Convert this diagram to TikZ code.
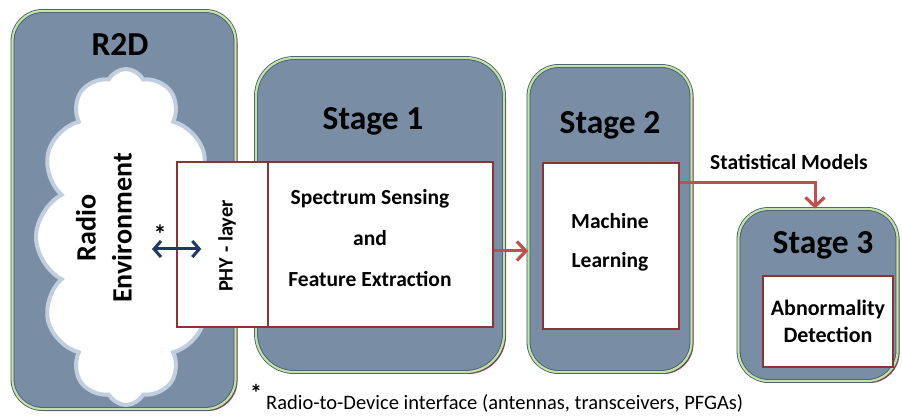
\documentclass[tikz,border=0pt]{standalone}
\usepackage{fontspec}
\setmainfont{Carlito}
\usetikzlibrary{shapes.symbols,shadows,arrows.meta}
\definecolor{slate}{RGB}{121,141,164}
\definecolor{slateedge}{RGB}{62,88,108}
\definecolor{rimgreen}{RGB}{196,226,166}
\definecolor{rimred}{RGB}{172,68,68}
\definecolor{boxedge}{RGB}{138,52,52}
\definecolor{flowred}{RGB}{192,80,77}
\definecolor{navy}{RGB}{31,56,100}
\definecolor{cloudedge}{RGB}{192,206,224}
\tikzset{
  stagebox/.style={rounded corners=30pt, fill=slate, draw=slateedge, line width=0.8pt,
    double=rimgreen, double distance=2.2pt, inner sep=0pt,
    general shadow={shadow xshift=2pt, shadow yshift=-2pt, fill=rimred}},
  stagetitle/.style={font=\bfseries\fontsize{33.5}{38}\selectfont},
  whitebox/.style={draw=boxedge, fill=white, line width=1.4pt, inner sep=0pt},
  boxtext/.style={font=\bfseries\fontsize{21.5}{41}\selectfont, align=center},
  flow/.style={draw=flowred, line width=3pt, -{Straight Barb[length=9pt,width=19pt,line width=3.2pt]}},
}
\begin{document}
\begin{tikzpicture}[x=1pt,y=-1pt]
  \useasboundingbox (0,0) rectangle (902,419);
  % outer boxes
  \node[stagebox, minimum width=223pt, minimum height=398pt] (r2d) at (124,210) {};
  \node[stagebox, rounded corners=38pt, minimum width=248pt, minimum height=314pt] (st1) at (380,215) {};
  \node[stagebox, minimum width=163pt, minimum height=306pt] (st2) at (610,219) {};
  \node[stagebox, minimum width=159pt, minimum height=172pt] (st3) at (818,295) {};
  % titles
  \node[stagetitle] (r2dT) at (120,45) {R2D};
  \node[stagetitle] (st1T) at (373,121) {Stage 1};
  \node[stagetitle] (st2T) at (610,125) {Stage 2};
  \node[stagetitle] (st3T) at (823,245) {Stage 3};
  % cloud
  \node[cloud, cloud puffs=12, cloud puff arc=125, cloud ignores aspect, minimum width=180pt, minimum height=336pt,
    fill=white, draw=cloudedge, line width=4pt] (env) at (126,237) {};
  \node[rotate=90, align=center, font=\bfseries\fontsize{28}{36}\selectfont] (envT) at (104,228) {Radio\\Environment};
  % inner boxes
  \node[whitebox, minimum width=91pt, minimum height=165pt] (phy) at (222.5,244.5) {};
  \node[rotate=90, font=\bfseries\fontsize{20.5}{24}\selectfont] (phyT) at (227,246) {PHY - layer};
  \node[whitebox, minimum width=225pt, minimum height=165pt] (ss) at (380.5,244.5) {};
  \node[boxtext] (ssT) at (370,238) {Spectrum Sensing\\and\\Feature Extraction};
  \node[whitebox, minimum width=136pt, minimum height=166pt] (ml) at (611,246) {};
  \node[boxtext, font=\bfseries\fontsize{21.5}{39}\selectfont] (mlT) at (610,242) {Machine\\Learning};
  \node[whitebox, minimum width=130pt, minimum height=91pt] (ad) at (828,321.5) {};
  \node[boxtext, font=\bfseries\fontsize{22}{27}\selectfont] (adT) at (828,321) {Abnormality\\Detection};
  % connectors
  \draw[flow] ([yshift=-6.5pt]ss.east) -- ([yshift=-6.5pt]ss.east -| st2.west);
  \draw[flow] ([yshift=63pt]ml.east) -| ([xshift=-3pt]st3.north);
  \node[font=\bfseries\fontsize{21.5}{24}\selectfont] (smT) at (789,162) {Statistical Models};
  \coordinate (ifc) at (152,249);
  \draw[navy, line width=3pt, {Straight Barb[length=7pt,width=16pt]}-{Straight Barb[length=7pt,width=16pt]}] (ifc) -- ([xshift=25pt]phy.west |- ifc);
  \node[font=\bfseries\fontsize{26}{28}\selectfont] (star) at (160,234) {*};
  % footnote
  \node[font=\bfseries\fontsize{24}{28}\selectfont] (fnStar) at (256,393) {*};
  \node[anchor=west, inner sep=0pt, font=\fontsize{20.5}{24}\selectfont] (fn) at (266,403) {Radio-to-Device interface (antennas, transceivers, PFGAs)};
\end{tikzpicture}
\end{document}
